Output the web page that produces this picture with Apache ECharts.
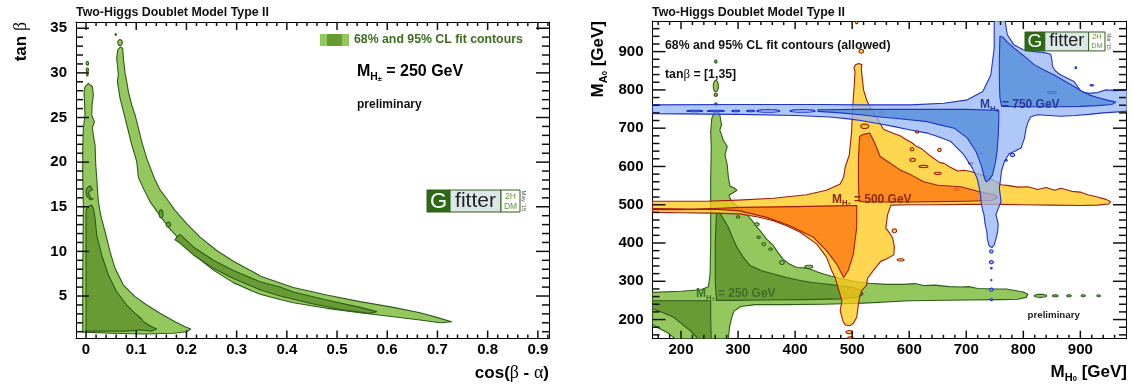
<!DOCTYPE html>
<html><head><meta charset="utf-8">
<script src="https://cdn.jsdelivr.net/npm/echarts@6.0.0/dist/echarts.min.js"></script>
<style>html,body{margin:0;padding:0;background:#fff}#c{width:1134px;height:387px;background:#fff}</style>
</head><body><div id="c"></div>
<script>
// ---------------- tick labels ----------------
const LX_MAJOR = [0, 0.1, 0.2, 0.3, 0.4, 0.5, 0.6, 0.7, 0.8, 0.9];
const LY_MAJOR = [5, 10, 15, 20, 25, 30, 35];
const RX_MAJOR = [200, 300, 400, 500, 600, 700, 800, 900];
const RY_MAJOR = [200, 300, 400, 500, 600, 700, 800, 900];

// ---------------- left panel: cos(b-a) vs tan b, M_H+ = 250 GeV ----------------
const L_LIGHT_A = [[-0.0066,0.95],[-0.0066,7.35],[-0.0053,14.8],[-0.0066,18.5],[-0.0066,21.55],[-0.0053,23.8],[-0.0020,25.3],[-0.004,27.9],[-0.0019,28.45],[0.0046,28.83],[0.0126,28.45],[0.0146,27.53],[0.012,26.4],[0.0113,25.3],[0.0166,24.5],[0.0126,23.86],[0.0146,23.0],[0.018,21.9],[0.0193,19.7],[0.0212,18.3],[0.0226,17.06],[0.0246,15.57],[0.0292,14.07],[0.0378,12.2],[0.0478,9.97],[0.0578,8.1],[0.0744,6.23],[0.0976,4.93],[0.121,4.0],[0.1474,3.06],[0.1773,2.12],[0.1972,1.56],[0.2085,1.30],[0.2005,1.00],[0.174,0.82],[0.1142,0.74],[0.0478,0.82],[-0.0053,0.95]];
const L_LIGHT_B = [[0.0631,32.58],[0.068,32.9],[0.073,32.77],[0.0744,31.65],[0.0777,29.97],[0.081,29.04],[0.0843,27.9],[0.091,26.4],[0.0976,25.3],[0.1043,23.8],[0.1109,22.3],[0.1208,20.45],[0.1308,18.97],[0.1374,18.03],[0.1474,16.9],[0.1607,15.9],[0.1773,14.6],[0.2005,13.1],[0.2271,11.6],[0.2603,10.1],[0.2935,8.9],[0.3333,7.7],[0.3466,7.25],[0.3865,6.45],[0.413,5.95],[0.4794,5.11],[0.5458,4.37],[0.6122,3.73],[0.6653,3.13],[0.6985,2.61],[0.7284,2.12],[0.7052,2.01],[0.6653,2.31],[0.6122,2.68],[0.5458,3.13],[0.4794,3.62],[0.413,4.25],[0.3865,4.6],[0.3466,5.2],[0.3333,5.5],[0.2935,6.5],[0.2537,7.9],[0.2205,9.4],[0.1939,10.9],[0.1673,12.5],[0.1474,14.0],[0.1275,15.57],[0.1142,17.06],[0.1042,18.3],[0.1009,20.08],[0.091,21.95],[0.081,24.19],[0.0744,25.68],[0.0677,27.17],[0.0624,29.04],[0.0644,29.78],[0.0611,31.65]];
const L_DARK_A = [[0.0,1.07],[0.0,7.35],[0.0,14.45],[0.0013,14.82],[0.007,15.1],[0.0113,15.2],[0.0146,14.82],[0.018,13.7],[0.0212,11.83],[0.0312,9.6],[0.0445,7.35],[0.0611,5.48],[0.081,3.99],[0.0976,3.06],[0.1109,2.42],[0.1142,2.12],[0.1308,1.56],[0.1408,1.30],[0.1308,1.07],[0.1076,1.19],[0.08,1.07],[0.0046,1.07]];
const L_DARK_CRESCENT = [[0.0013,17.06],[0.008,17.35],[0.0133,16.9],[0.008,16.8],[0.0046,16.5],[0.01,15.95],[0.0146,15.87],[0.008,15.8],[0.0013,16.2],[0.0,16.7]];
const L_DARK_B = [[0.1793,11.5],[0.1873,11.9],[0.2138,10.5],[0.2537,9.0],[0.2935,7.85],[0.3466,6.6],[0.3865,6.0],[0.413,5.45],[0.4794,4.56],[0.5458,3.73],[0.579,3.25],[0.5657,3.06],[0.5126,3.44],[0.4462,4.18],[0.3865,5.0],[0.3466,5.7],[0.2935,6.95],[0.2537,8.1],[0.2138,9.6],[0.1873,10.9],[0.1773,11.3]];
// islands: [centre x, centre y, half width, half height]
const L_ISLANDS_LIGHT = [[0.0026,31.07,0.0025,0.2],[0.0026,30.33,0.0022,0.22],[0.0026,29.8,0.0015,0.15],[0.0677,33.39,0.0045,0.33],[0.0591,34.3,0.0012,0.1]];
const L_ISLANDS_DARK = [[0.1494,14.2,0.004,0.45],[0.164,13.0,0.0045,0.28]];

// ---------------- right panel: M_H0 vs M_A0 ----------------
// M_H+ = 250 GeV
const G_LIGHT = [[150,271],[200,274],[235,278],[248,286],[251,320],[252,400],[252,480],[252,565],[253,648],[252,691],[254,726],[258,740],[261,745],[265,742],[268,735],[271,709],[268,695],[274,669],[281,652],[277,630],[281,604],[283,571],[286,548],[292,545],[298,538],[290,530],[284,525],[288,510],[297,498],[309,484],[318,470],[327,454],[334,440],[341,428],[350,410],[362,393],[370,375],[379,358],[390,345],[403,336],[415,335],[426,332],[438,325],[450,319],[462,314],[473,310],[485,306],[496,302],[510,298],[530,295],[560,292],[590,292],[610,294],[625,289],[645,290],[670,286],[690,285],[705,286],[720,281],[750,280],[770,280],[785,276],[800,272],[808,266],[805,258],[790,253],[760,252],[700,251],[600,249],[520,243],[450,240],[380,239],[330,239],[305,234],[293,222],[289,206],[285,180],[283,150],[190,150],[175,167],[160,178],[150,188]];
const G_DARK_UP = [[262,478],[268,479],[271,471],[277,456],[283,441],[290,415],[298,389],[308,365],[321,341],[340,328],[362,319],[385,310],[409,302],[430,297],[455,293],[480,288],[502,284],[515,276],[519,266],[510,258],[480,254],[420,252],[350,251],[290,250],[262,250],[260,300],[260,400]];
const G_DARK_LO = [[150,249],[200,249],[252,249],[252,200],[253,150],[230,150],[216,171],[200,190],[187,206],[170,217],[150,228]];
const G_ISLANDS = [[261,762,2.5,4],[261,787,3,4],[261,810,4.5,15],[261,874,2,4],[333,449,4,4],[336,415,3,3],[345,397,3,4],[357,384,3,3],[377,349,4,5],[424,338,7,4],[300,468,3,3],[830,262,11,4],[856,262,5,2.5],[880,262,4,2.5],[905,262,3.5,2.5],[932,262,3,2.5]];
// M_H+ = 500 GeV
const Y_LIGHT = [[150,509],[245,509],[300,512],[362,517],[420,526],[455,538],[479,554],[485,572],[488,600],[495,630],[499,691],[500,730],[502,778],[504,820],[505,848],[503,858],[506,866],[511,869],[517,866],[516,856],[517,840],[520,800],[525,775],[531,756],[537,742],[543,730],[549,712],[555,697],[563,692],[572,687],[584,680],[596,669],[605,662],[613,652],[622,646],[631,635],[642,622],[654,610],[661,608],[672,598],[685,588],[696,590],[708,587],[717,582],[726,578],[734,574],[745,566],[755,558],[761,552],[775,550],[790,546],[808,547],[825,540],[840,545],[855,538],[866,543],[885,535],[900,533],[913,526],[930,520],[945,514],[953,508],[950,502],[930,499],[900,498],[850,499],[800,500],[760,501],[700,501],[640,500],[600,500],[568,499],[562,474],[559,439],[566,425],[571,413],[574,390],[573,369],[560,358],[550,352],[538,330],[527,308],[525,289],[517,276],[513,260],[511,241],[508,206],[502,190],[496,184],[488,186],[484,195],[479,223],[481,240],[482,249],[476,280],[472,300],[470,310],[464,328],[455,363],[438,397],[409,428],[385,445],[362,458],[335,468],[303,476],[250,478],[200,479],[150,480]];
const O_DARK_UP = [[513,678],[520,684],[531,687],[537,669],[544,645],[549,626],[562,613],[584,591],[603,578],[625,560],[650,551],[690,547],[720,535],[749,526],[755,519],[745,511],[700,509],[650,508],[600,507],[560,507],[520,507],[512,510],[511,560],[511,620]];
const O_DARK_LO = [[150,490],[220,489],[270,491],[303,493],[400,495],[470,497],[508,498],[508,484],[508,441],[502,371],[493,328],[485,310],[473,345],[455,380],[432,415],[391,445],[350,467],[303,484],[260,488],[200,487],[150,487]];
const Y_ISLANDS = [[508,976,2,3],[516,901,4,5],[552,741,4,4],[522,705,7,6],[614,691,3,4],[605,645,3,4],[653,643,3,4],[606,617,5,4],[625,600,8,3],[650,582,6,3],[683,540,4,3],[727,635,2,2],[708,608,4,2],[574,432,4,5],[585,356,6,3],[495,167,6,4],[497,152,5,3]];
// M_H+ = 750 GeV
const B_LIGHT = [[150,761],[300,762],[450,762],[515,761],[603,761],[661,765],[702,774],[729,796],[743,839],[749,909],[749,990],[767,990],[772,944],[784,917],[800,905],[819,900],[835,898],[848,893],[850,880],[851,862],[856,850],[860,845],[866,839],[878,830],[889,822],[901,796],[915,791],[930,793],[945,800],[960,798],[990,800],[990,745],[960,742],[940,740],[915,736],[890,733],[866,731],[845,733],[825,735],[813,730],[808,715],[805,700],[802,674],[796,648],[785,640],[775,633],[767,613],[762,590],[761,578],[758,543],[761,508],[756,490],[752,474],[756,450],[755,430],[752,410],[749,395],[745,388],[740,393],[737,410],[736,430],[733,450],[731,474],[728,490],[726,508],[725,525],[723,543],[719,569],[711,595],[696,630],[673,665],[650,678],[632,687],[600,696],[574,704],[545,712],[515,720],[490,725],[460,729],[400,733],[300,736],[150,738]];
const B_DARK_UP = [[759,940],[764,938],[772,925],[784,909],[800,890],[819,866],[836,852],[854,839],[870,825],[889,809],[902,797],[915,787],[930,780],[945,774],[962,768],[955,762],[930,759],[900,757],[860,756],[810,756],[762,757],[759,780],[758,820],[758,880]];
const B_DARK_LO = [[440,748],[515,749],[600,749],[700,749],[757,747],[757,720],[756,680],[754,640],[751,610],[746,578],[740,565],[735,560],[732,569],[726,604],[717,639],[702,674],[679,700],[650,710],[632,717],[600,722],[574,726],[545,730],[515,735],[480,740],[440,744]];
const B_DASHES = [[224,745,14,2],[261,745,15,2],[296,745,7,2],[322,745,7,2]];
const B_RINGS = [[353,745,20,3.5],[413,745,22,3.5]];
const B_ISLANDS = [[744,378,3,4],[744,350,3.5,4],[744,334,1.5,2],[744,303,1,1.5],[744,278,3,4],[744,252,2,2.5],[781,630,4,4],[770,616,2,2],[850,793,8,3],[892,858,1.5,2.5],[920,812,3,2]];

// ---------------- styling ----------------
const FONT = '"Liberation Sans", Arial, Helvetica, sans-serif';
const SERIF = '"Liberation Serif", "DejaVu Serif", serif';
const GREEN_LIGHT = '#94C85F', GREEN_DARK = '#689B34', GREEN_LINE = '#2E5B18';
const YELLOW = 'rgba(255,200,22,0.75)', ORANGE = 'rgba(252,115,13,0.75)', RED_LINE = '#A01C0E';
const BLUE_LIGHT = 'rgba(150,182,246,0.75)', BLUE_MED = 'rgba(77,137,216,0.75)', BLUE_LINE = '#1F33C8';
const TICK_W = 1.5;

const L_EXT = { x: [-0.02, 0.9222], y: [0.24, 35.7] };
const R_EXT = { x: [150, 980], y: [150, 980] };

function minors(lo, hi, step, majors) {
  const out = []; const n = Math.round((hi - lo) / step);
  for (let i = 0; i <= n; i++) { const v = +(lo + i * step).toFixed(6); if (!majors.some(m => Math.abs(m - v) < 1e-9)) out.push(v); }
  return out;
}
const LX_MINOR = minors(0.02, 0.92, 0.02, LX_MAJOR);
const LY_MINOR = minors(1, 35, 1, LY_MAJOR);
const RX_MINOR = minors(160, 960, 20, RX_MAJOR);
const RY_MINOR = minors(160, 960, 20, RY_MAJOR);

function axis(gridIndex, position, ext, majors, labels, margin) {
  return {
    type: 'value', gridIndex, position, min: ext[0], max: ext[1],
    splitLine: { show: false },
    axisLine: { show: true, onZero: false, lineStyle: { color: '#000', width: 1 } },
    axisTick: { show: false },
    axisLabel: labels ? { show: true, customValues: majors, fontFamily: FONT, fontWeight: 'bold', fontSize: 15, color: '#000', margin } : { show: false }
  };
}
const xAxes = [
  axis(0, 'bottom', L_EXT.x, LX_MAJOR, true, 4), axis(0, 'top', L_EXT.x, LX_MAJOR, false, 0),
  axis(1, 'bottom', R_EXT.x, RX_MAJOR, true, 4), axis(1, 'top', R_EXT.x, RX_MAJOR, false, 0)
];
const yAxes = [
  axis(0, 'left', L_EXT.y, LY_MAJOR, true, 9), axis(0, 'right', L_EXT.y, LY_MAJOR, false, 0),
  axis(1, 'left', R_EXT.y, RY_MAJOR, true, 9), axis(1, 'right', R_EXT.y, RY_MAJOR, false, 0)
];

function panelIdx(panel) { return panel === 'L' ? 0 : 2; }

// one tick series per side; every tick placed through the axis scales
function tickPolys(panel, side, values, len) {
  const idx = panelIdx(panel); const ext = panel === 'L' ? L_EXT : R_EXT;
  const isX = side === 'bottom' || side === 'top';
  return {
    type: 'custom', coordinateSystem: 'cartesian2d', xAxisIndex: idx, yAxisIndex: idx, clip: false, silent: true, z: 3,
    data: values.map((v, i) => isX ? [v, (ext.y[0] + ext.y[1]) / 2, i] : [(ext.x[0] + ext.x[1]) / 2, v, i]), encode: { x: 0, y: 1 },
    renderItem: (params, api) => {
      const v = values[api.value(2)];
      let p;
      if (isX) {
        const a = api.coord([v, side === 'bottom' ? ext.y[0] : ext.y[1]]);
        const x = a[0] - TICK_W / 2; const d = side === 'bottom' ? -len : len;
        p = [[x, a[1]], [x + TICK_W, a[1]], [x + TICK_W, a[1] + d], [x, a[1] + d]];
      } else {
        const a = api.coord([side === 'left' ? ext.x[0] : ext.x[1], v]);
        const y = a[1] - TICK_W / 2; const d = side === 'left' ? len : -len;
        p = [[a[0], y], [a[0] + d, y], [a[0] + d, y + TICK_W], [a[0], y + TICK_W]];
      }
      return { type: 'polygon', shape: { points: p }, style: { fill: '#111' } };
    }
  };
}

function polySeries(polys, fill, stroke, panel) {
  const idx = panelIdx(panel);
  return {
    type: 'custom', coordinateSystem: 'cartesian2d', xAxisIndex: idx, yAxisIndex: idx, clip: true, silent: true,
    data: polys.map((p, i) => [p[0][0], p[0][1], i]), encode: { x: 0, y: 1 },
    renderItem: (params, api) => {
      const p = polys[api.value(2)];
      return { type: 'polygon', shape: { points: p.map(pt => api.coord(pt)) }, style: { fill, stroke, lineWidth: 1.1, lineJoin: 'round' } };
    }
  };
}
function ellSeries(list, fill, stroke, panel) {
  const idx = panelIdx(panel);
  return {
    type: 'custom', coordinateSystem: 'cartesian2d', xAxisIndex: idx, yAxisIndex: idx, clip: true, silent: true,
    data: list, encode: { x: 0, y: 1 },
    renderItem: (params, api) => {
      const c = api.coord([api.value(0), api.value(1)]);
      const s = api.size([api.value(2), api.value(3)]);
      const pts = [];
      for (let k = 0; k < 20; k++) { const a = k / 20 * Math.PI * 2; pts.push([c[0] + s[0] * Math.cos(a), c[1] + s[1] * Math.sin(a)]); }
      return { type: 'polygon', shape: { points: pts }, style: { fill, stroke, lineWidth: 1.1 } };
    }
  };
}

const series = [];
[['L', LX_MAJOR, LX_MINOR, LY_MAJOR, LY_MINOR], ['R', RX_MAJOR, RX_MINOR, RY_MAJOR, RY_MINOR]].forEach(([pn, xM, xm, yM, ym]) => {
  ['bottom', 'top'].forEach(sd => { series.push(tickPolys(pn, sd, xM, 8)); series.push(tickPolys(pn, sd, xm, 4)); });
  ['left', 'right'].forEach(sd => { series.push(tickPolys(pn, sd, yM, 13)); series.push(tickPolys(pn, sd, ym, 7)); });
});
series.push(
  polySeries([L_LIGHT_A, L_LIGHT_B], GREEN_LIGHT, GREEN_LINE, 'L'),
  ellSeries(L_ISLANDS_LIGHT, GREEN_LIGHT, GREEN_LINE, 'L'),
  polySeries([L_DARK_A, L_DARK_CRESCENT, L_DARK_B], GREEN_DARK, GREEN_LINE, 'L'),
  ellSeries(L_ISLANDS_DARK, GREEN_DARK, GREEN_LINE, 'L'),

  polySeries([G_LIGHT], GREEN_LIGHT, GREEN_LINE, 'R'),
  ellSeries(G_ISLANDS, GREEN_LIGHT, GREEN_LINE, 'R'),
  polySeries([G_DARK_UP, G_DARK_LO], GREEN_DARK, GREEN_LINE, 'R'),
  polySeries([Y_LIGHT], YELLOW, RED_LINE, 'R'),
  ellSeries(Y_ISLANDS, YELLOW, RED_LINE, 'R'),
  polySeries([O_DARK_UP, O_DARK_LO], ORANGE, RED_LINE, 'R'),
  polySeries([B_LIGHT], BLUE_LIGHT, BLUE_LINE, 'R'),
  ellSeries(B_ISLANDS, BLUE_LIGHT, BLUE_LINE, 'R'),
  polySeries([B_DARK_UP, B_DARK_LO], BLUE_MED, BLUE_LINE, 'R'),
  ellSeries(B_DASHES, BLUE_MED, BLUE_LINE, 'R'),
  ellSeries(B_RINGS, 'rgba(0,0,0,0)', BLUE_LINE, 'R')
);

function mhRich(fs, color) {
  return {
    m: { fontFamily: FONT, fontWeight: 'bold', fontSize: fs, lineHeight: fs * 1.3, fill: color, color, verticalAlign: 'middle' },
    s: { fontFamily: FONT, fontWeight: 'bold', fontSize: fs * 0.65, lineHeight: fs * 0.5, fill: color, color, verticalAlign: 'bottom' },
    p: { fontFamily: FONT, fontWeight: 'bold', fontSize: fs * 0.45, lineHeight: fs * 1.1, fill: color, color, verticalAlign: 'bottom' },
    g: { fontFamily: SERIF, fontSize: fs * 1.05, lineHeight: fs * 1.3, fill: color, color, verticalAlign: 'middle' }
  };
}
function txt(x, y, text, font, fill, align) {
  return { type: 'text', x, y, z: 100, silent: true, style: { text, font, fill, align: align || 'left', verticalAlign: 'middle' } };
}
function richTxt(x, y, text, rich, align, rotation) {
  return { type: 'text', x, y, z: 100, silent: true, rotation: rotation || 0, style: { text, rich, align: align || 'left', verticalAlign: 'middle' } };
}
function logo(x, y, sc, date) {
  const h = 22 * sc, wG = 23 * sc, wF = 51 * sc, wD = 19 * sc;
  const r = (rx, w, fill) => ({ type: 'rect', z: 100, silent: true, shape: { x: rx, y, width: w, height: h }, style: { fill, stroke: '#2E5B18', lineWidth: 1 } });
  const rot = { type: 'text', z: 100, silent: true, x: x + wG + wF + wD + 4 * sc, y: y + h / 2, rotation: -Math.PI / 2,
    style: { text: date, font: `${6 * sc}px ${FONT}`, fill: '#555', align: 'center', verticalAlign: 'middle' } };
  return [
    r(x, wG, '#2D6A15'), r(x + wG, wF, '#DCE8E8'), r(x + wG + wF, wD, '#FFFFFF'),
    txt(x + wG / 2, y + h / 2 + 0.5, 'G', `${22 * sc}px ${FONT}`, '#FFFFFF', 'center'),
    txt(x + wG + wF / 2, y + h / 2, 'fitter', `${21 * sc}px ${FONT}`, '#222', 'center'),
    txt(x + wG + wF + wD / 2, y + h * 0.28, '2H', `${8.5 * sc}px ${FONT}`, '#5B9A33', 'center'),
    txt(x + wG + wF + wD / 2, y + h * 0.74, 'DM', `${8.5 * sc}px ${FONT}`, '#5B9A33', 'center'),
    rot
  ];
}

const RB = mhRich(17, '#000');
const graphic = [
  txt(76, 12.5, 'Two-Higgs Doublet Model Type II', `bold 12.4px ${FONT}`, '#111'),
  txt(652, 12.5, 'Two-Higgs Doublet Model Type II', `bold 12.4px ${FONT}`, '#111'),
  richTxt(21, 22, '{m|tan }{g|β}', RB, 'right', Math.PI / 2),
  richTxt(549, 373, '{m|cos(}{g|β}{m| - }{g|α}{m|)}', RB, 'right'),
  richTxt(598, 21, '{m|M}{s|A}{p|0}{m| [GeV]}', RB, 'right', Math.PI / 2),
  richTxt(1127, 372, '{m|M}{s|H}{p|0}{m| [GeV]}', RB, 'right'),
  { type: 'rect', z: 100, silent: true, shape: { x: 320, y: 34, width: 29, height: 12 }, style: { fill: GREEN_LIGHT } },
  { type: 'rect', z: 100, silent: true, shape: { x: 327, y: 34, width: 15, height: 12 }, style: { fill: GREEN_DARK } },
  txt(354, 40, '68% and 95% CL fit contours', `bold 12.3px ${FONT}`, '#3D6F1F'),
  richTxt(357, 72, '{m|M}{s|H}{p|±}{m| = 250 GeV}', mhRich(16, '#000')),
  txt(357, 104.5, 'preliminary', `bold 12px ${FONT}`, '#111'),
  txt(665, 46, '68% and 95% CL fit contours (allowed)', `bold 12.3px ${FONT}`, '#111'),
  richTxt(665, 74.5, '{m|tan}{g|β}{m| = [1,35]}', mhRich(12.3, '#111')),
  richTxt(696, 294, '{m|M}{s|H}{p|±}{m| = 250 GeV}', mhRich(12, '#3F6E2A')),
  richTxt(832, 199.5, '{m|M}{s|H}{p|±}{m| = 500 GeV}', mhRich(12, '#8F2A10')),
  richTxt(980, 105, '{m|M}{s|H}{p|±}{m| = 750 GeV}', mhRich(12, '#2A3A9A')),
  txt(1027.6, 315.5, 'preliminary', `bold 9.7px ${FONT}`, '#222')
].concat(logo(427, 190, 1, "May '15"), logo(1025, 32, 0.86, "Mar '15"));

const chart = echarts.init(document.getElementById('c'));
chart.setOption({
  animation: false,
  grid: [
    { left: 76, right: 585, top: 22, bottom: 48.5 },
    { left: 652.5, right: 8, top: 21, bottom: 48.3 }
  ],
  xAxis: xAxes,
  yAxis: yAxes,
  series,
  graphic
});
</script></body></html>
